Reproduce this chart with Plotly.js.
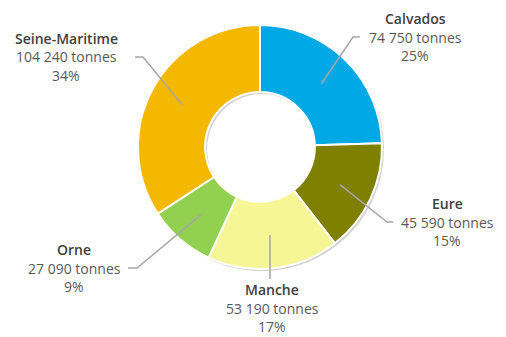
<!DOCTYPE html>
<html><head><meta charset="utf-8">
<script src="https://cdn.plot.ly/plotly-3.0.1.min.js"></script>
<style>html,body{margin:0;padding:0;background:#fff}#c{width:506px;height:337px}</style>
</head><body><div id="c"></div>
<script>
const categories = ["Calvados", "Eure", "Manche", "Orne", "Seine-Maritime"];
const tonnes = [74750, 45590, 53190, 27090, 104240];
const valueLabels = ["74 750 tonnes", "45 590 tonnes", "53 190 tonnes", "27 090 tonnes", "104 240 tonnes"];
const pctLabels = ["25%", "15%", "17%", "9%", "34%"];
const colors = ["#00A9E6", "#808000", "#F6F697", "#92D050", "#F5B800"];

const W = 506, H = 337, cx = 260, cy = 147, R = 122, HOLE = 0.45;
// label layout (pixels): text center x, middle-line y, elbow point, line end
const labelPos = [
  {x: 415, y: 37, elbow: [353, 37], end: [360, 37]},
  {x: 447, y: 222, elbow: [387, 222], end: [393, 222]},
  {x: 272, y: 308, elbow: null, end: [270, 279]},
  {x: 74, y: 268, elbow: [137, 268], end: [128, 268]},
  {x: 66, y: 57, elbow: [143, 57], end: [135, 57]}
];
const px = v => v / W, py = v => 1 - v / H;
const dom = (ox, oy) => ({x: [px(cx - R + ox), px(cx + R + ox)], y: [py(cy + R + oy), py(cy - R + oy)]});

const total = tonnes.reduce((a, b) => a + b, 0);
const shapes = [], annotations = [];
let cum = 0;
const LS = 18.5;
tonnes.forEach((v, i) => {
  const mid = (cum + v / 2) / total * 2 * Math.PI; cum += v;
  const rm = R * (1 + HOLE) / 2;
  const sx = cx + rm * Math.sin(mid), sy = cy - rm * Math.cos(mid);
  const L = labelPos[i];
  let path = `M ${px(sx)} ${py(sy)}`;
  if (L.elbow) path += ` L ${px(L.elbow[0])} ${py(L.elbow[1])}`;
  path += ` L ${px(L.end[0])} ${py(L.end[1])}`;
  shapes.push({type: 'path', xref: 'paper', yref: 'paper', path: path, line: {color: '#A6A6A6', width: 1.5}});
  const base = {xref: 'paper', yref: 'paper', showarrow: false, xanchor: 'center', yanchor: 'middle'};
  annotations.push(Object.assign({}, base, {x: px(L.x), y: py(L.y - LS), text: categories[i], font: {family: 'Open Sans', size: 14, color: '#404040', weight: 600}}));
  annotations.push(Object.assign({}, base, {x: px(L.x), y: py(L.y), text: valueLabels[i], font: {family: 'Open Sans', size: 14, color: '#595959'}}));
  annotations.push(Object.assign({}, base, {x: px(L.x), y: py(L.y + LS), text: pctLabels[i], font: {family: 'Open Sans', size: 14, color: '#595959'}}));
});

const shadow = {
  type: 'pie', values: tonnes, labels: categories, sort: false, direction: 'clockwise', rotation: 0,
  hole: HOLE, textinfo: 'none', hoverinfo: 'skip', showlegend: false,
  marker: {colors: tonnes.map(() => 'rgba(0,0,0,0.18)'), line: {width: 0}},
  domain: dom(2, 2)
};
const main = {
  type: 'pie', values: tonnes, labels: categories, sort: false, direction: 'clockwise', rotation: 0,
  hole: HOLE, textinfo: 'none', showlegend: false,
  marker: {colors: colors, line: {color: '#FFFFFF', width: 2}},
  domain: dom(0, 0)
};
Plotly.newPlot('c', [shadow, main], {
  width: W, height: H, margin: {l: 0, r: 0, t: 0, b: 0},
  paper_bgcolor: '#fff', showlegend: false, shapes: shapes, annotations: annotations
}, {displayModeBar: false, staticPlot: true});
</script></body></html>
